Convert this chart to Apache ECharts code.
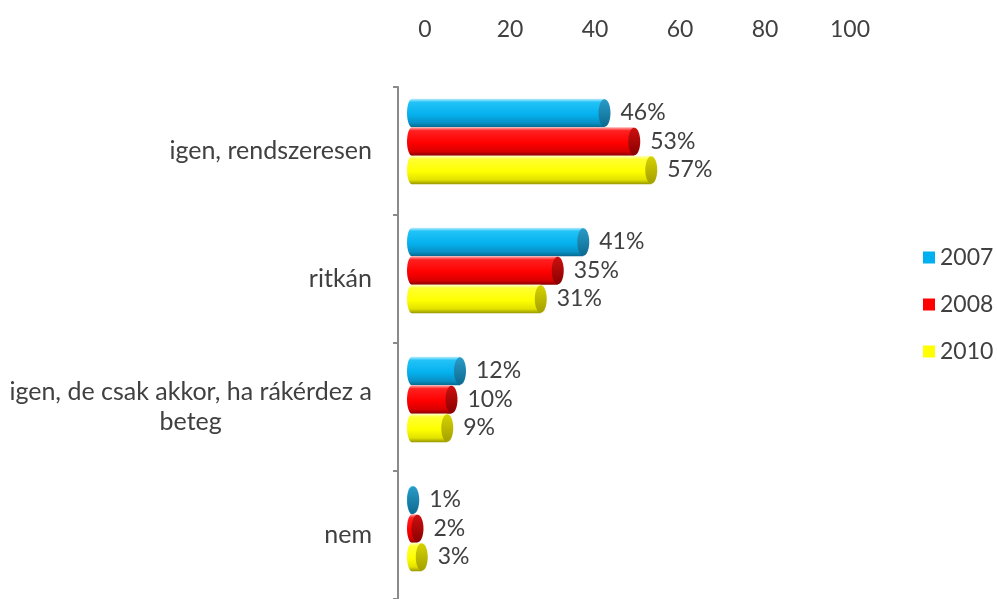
<!DOCTYPE html>
<html>
<head>
<meta charset="utf-8">
<script src="https://cdn.jsdelivr.net/npm/echarts@6/dist/echarts.min.js"></script>
<style>
  html, body { margin: 0; padding: 0; background: #fff; }
  #chart { width: 997px; height: 599px; }
</style>
</head>
<body>
<div id="chart"></div>
<script>
var categories = ['igen, rendszeresen', 'ritkán', 'igen, de csak akkor, ha rákérdez a beteg', 'nem'];
var years = ['2007', '2008', '2010'];
var values2007 = [46, 41, 12, 1];
var values2008 = [53, 35, 10, 2];
var values2010 = [57, 31, 9, 3];
var xTicks = [0, 20, 40, 60, 80, 100];

// body gradient stops + end cap colours for each year
var looks = [
  { flat: '#00b0f0', stops: ['#bdeeff', '#22c3f7', '#05b1ee', '#0791c6', '#06688e'], cap: ['#2a9cc8', '#0c6a90'] },
  { flat: '#ff0000', stops: ['#ffb0b0', '#ff2020', '#ff0000', '#d80000', '#880000'], cap: ['#cc1010', '#8a0000'] },
  { flat: '#ffff00', stops: ['#ffffc8', '#ffff30', '#ffff00', '#e2e200', '#969600'], cap: ['#d6d200', '#a4a000'] }
];
var FS = 23;

function grad(c) {
  var offs = [0, 0.12, 0.55, 0.85, 1];
  return {
    type: 'linear', x: 0, y: 0, x2: 0, y2: 1,
    colorStops: c.map(function (col, k) { return { offset: offs[k], color: col }; })
  };
}

function cylinder(params, api) {
  var v = api.value(0), j = api.value(1);
  var idx = params.seriesIndex;
  var p0 = api.coord([0, j]), p1 = api.coord([v, j]);
  var h = 28.5, rx = 5, capRx = 6;
  var cy = p0[1] + (idx - 1) * h;
  var look = looks[idx];
  var body = grad(look.stops);
  var capFill = { type: 'linear', x: 0, y: 0, x2: 0, y2: 1,
    colorStops: [{ offset: 0, color: look.cap[0] }, { offset: 1, color: look.cap[1] }] };
  var xEnd = Math.max(p1[0] + 2, p0[0] + rx);
  return {
    type: 'group',
    children: [
      { type: 'ellipse', shape: { cx: p0[0] + rx, cy: cy, rx: rx, ry: h / 2 }, style: { fill: body } },
      { type: 'rect', shape: { x: p0[0] + rx, y: cy - h / 2, width: Math.max(xEnd - p0[0] - rx, 0), height: h }, style: { fill: body } },
      { type: 'ellipse', shape: { cx: xEnd, cy: cy, rx: capRx, ry: h / 2 - 0.5 }, style: { fill: capFill } },
      { type: 'text', x: p1[0] + 18, y: cy, style: { text: v + '%', fill: '#404040', fontSize: FS, fontFamily: 'Lato', align: 'left', verticalAlign: 'middle' } }
    ]
  };
}

function makeSeries(name, vals) {
  var i = years.indexOf(name);
  return {
    name: name,
    type: 'custom',
    xAxisIndex: 0,
    yAxisIndex: 0,
    renderItem: cylinder,
    itemStyle: { color: looks[i].flat },
    encode: { x: 0, y: 1 },
    data: vals.map(function (v, j) { return [v, j]; })
  };
}

var chart = echarts.init(document.getElementById('chart'));
chart.setOption({
  backgroundColor: '#fff',
  animation: false,
  textStyle: { fontFamily: 'Lato' },
  legend: {
    orient: 'vertical',
    left: 918,
    top: 241,
    itemWidth: 12,
    itemHeight: 12,
    itemGap: 24,
    icon: 'rect',
    textStyle: { fontSize: FS, color: '#404040', fontFamily: 'Lato' },
    data: years
  },
  grid: [
    { left: 407, top: 77, width: 425, height: 516 },   // bars
    { left: 398, top: 87, width: 425, height: 516 },   // category axis
    { left: 425, top: 87, width: 425, height: 516 }    // value labels (back wall)
  ],
  xAxis: [
    { type: 'value', gridIndex: 0, min: 0, max: 100, show: false },
    { type: 'value', gridIndex: 1, min: 0, max: 100, show: false },
    {
      type: 'value', gridIndex: 2, position: 'top', min: xTicks[0], max: xTicks[xTicks.length - 1], interval: 20,
      axisLine: { show: false }, axisTick: { show: false }, splitLine: { show: false },
      axisLabel: { margin: 46, fontSize: FS, color: '#404040', fontFamily: 'Lato' }
    }
  ],
  yAxis: [
    { type: 'category', gridIndex: 0, inverse: true, data: categories, show: false },
    {
      type: 'category', gridIndex: 1, inverse: true, data: categories,
      axisLine: { show: true, lineStyle: { color: '#8a8a8a', width: 2 } },
      axisTick: { show: true, length: 5, lineStyle: { color: '#8a8a8a', width: 2 } },
      axisLabel: {
        margin: 26, fontSize: 25, color: '#404040', fontFamily: 'Lato', align: 'right',
        formatter: function (s) {
          return '{c|' + s.replace(' a beteg', ' a\nbeteg') + '}';
        },
        rich: { c: { align: 'center', fontSize: 25, color: '#404040', fontFamily: 'Lato', lineHeight: 30 } }
      }
    },
    { type: 'category', gridIndex: 2, inverse: true, data: categories, show: false }
  ],
  series: [
    makeSeries('2007', values2007),
    makeSeries('2008', values2008),
    makeSeries('2010', values2010)
  ]
});
</script>
</body>
</html>
